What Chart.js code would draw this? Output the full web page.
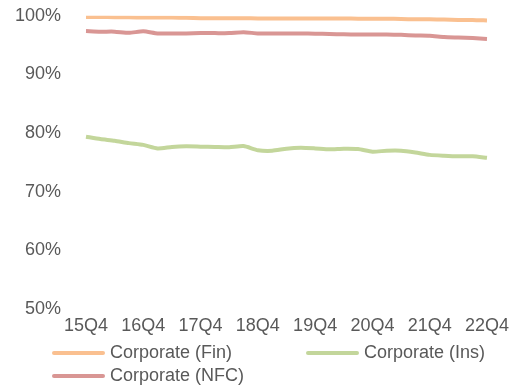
<!DOCTYPE html>
<html>
<head>
<meta charset="utf-8">
<script src="https://cdn.jsdelivr.net/npm/chart.js@4/dist/chart.umd.min.js"></script>
<style>
    body { margin: 0; background: #fff; font-family: "Liberation Sans", Arial, sans-serif; overflow: hidden; }
    #wrap { position: relative; width: 515px; height: 390px; overflow: hidden; }
    #box { position: absolute; left: 0; top: -20px; width: 515px; height: 365px; }
    .lg { position: absolute; display: flex; align-items: center; font-size: 18px; color: #595959; white-space: nowrap; }
    .lg span.ln { display: inline-block; width: 53px; height: 4px; border-radius: 2px; margin-right: 5px; }
</style>
</head>
<body>
<div id="wrap">
    <div id="box"><canvas id="chart"></canvas></div>
    <div id="legend"></div>
</div>
<script>
// quarters 15Q4 .. 22Q4
const quarters = ['15Q4',
    '16Q1','16Q2','16Q3','16Q4','17Q1','17Q2','17Q3','17Q4',
    '18Q1','18Q2','18Q3','18Q4','19Q1','19Q2','19Q3','19Q4',
    '20Q1','20Q2','20Q3','20Q4','21Q1','21Q2','21Q3','21Q4',
    '22Q1','22Q2','22Q3','22Q4'];

const finValues = [99.8, 99.8, 99.75, 99.75, 99.7, 99.7, 99.7, 99.65, 99.6, 99.6, 99.6, 99.6, 99.55, 99.55, 99.55,
    99.55, 99.55, 99.55, 99.55, 99.5, 99.5, 99.5, 99.45, 99.4, 99.4, 99.35, 99.3, 99.3, 99.2];
const insValues = [79.4, 79.0, 78.7, 78.3, 78.0, 77.4, 77.65, 77.75, 77.7, 77.65, 77.6, 77.8, 77.1, 77.0, 77.35,
    77.5, 77.4, 77.25, 77.35, 77.3, 76.85, 77.0, 77.0, 76.7, 76.3, 76.15, 76.05, 76.05, 75.8];
const nfcValues = [97.4, 97.3, 97.3, 97.1, 97.35, 97.0, 97.0, 97.0, 97.05, 97.05, 97.05, 97.2, 97.0, 97.0, 97.0,
    97.0, 96.95, 96.9, 96.85, 96.8, 96.8, 96.8, 96.75, 96.65, 96.6, 96.4, 96.3, 96.2, 96.05];

const yTicks = [50, 60, 70, 80, 90, 100];

const seriesNames  = ['Corporate (Fin)', 'Corporate (Ins)', 'Corporate (NFC)'];
const seriesColors = ['#FAC090', '#C3D69B', '#D99694'];
const seriesData   = [finValues, insValues, nfcValues];

const textColor = '#595959';
Chart.defaults.font.family = '"Liberation Sans", Arial, sans-serif';
Chart.defaults.font.size = 18;
Chart.defaults.color = textColor;

new Chart(document.getElementById('chart'), {
    type: 'line',
    data: {
        labels: quarters,
        datasets: seriesNames.map((name, i) => ({
            label: name,
            data: seriesData[i],
            borderColor: seriesColors[i],
            backgroundColor: seriesColors[i],
            borderWidth: 4,
            pointRadius: 0,
            tension: 0.2,
            fill: false
        }))
    },
    options: {
        responsive: true,
        maintainAspectRatio: false,
        animation: false,
        layout: { padding: { top: -16, right: 24, left: 0, bottom: 0 } },
        plugins: { legend: { display: false }, tooltip: { enabled: false } },
        scales: {
            x: {
                offset: false,
                grid: { display: false, drawTicks: false },
                border: { display: false },
                ticks: {
                    autoSkip: false,
                    maxRotation: 0,
                    padding: 6,
                    callback: (v, i) => i % 4 === 0 ? quarters[i] : ''
                }
            },
            y: {
                min: yTicks[0],
                max: yTicks[yTicks.length - 1],
                afterBuildTicks: s => { s.ticks = yTicks.map(v => ({ value: v })); },
                afterFit: s => { s.width = 86; },
                grid: { display: false, drawTicks: false },
                border: { display: false },
                ticks: { padding: 25, callback: v => v + '%' }
            }
        }
    }
});

// legend in two columns like the original
const legendPos = [[52, 342], [306, 342], [52, 365]];
const legendEl = document.getElementById('legend');
seriesNames.forEach((name, i) => {
    const d = document.createElement('div');
    d.className = 'lg';
    d.style.left = legendPos[i][0] + 'px';
    d.style.top = legendPos[i][1] + 'px';
    d.innerHTML = '<span class="ln" style="background:' + seriesColors[i] + '"></span>' + name;
    legendEl.appendChild(d);
});
</script>
</body>
</html>
